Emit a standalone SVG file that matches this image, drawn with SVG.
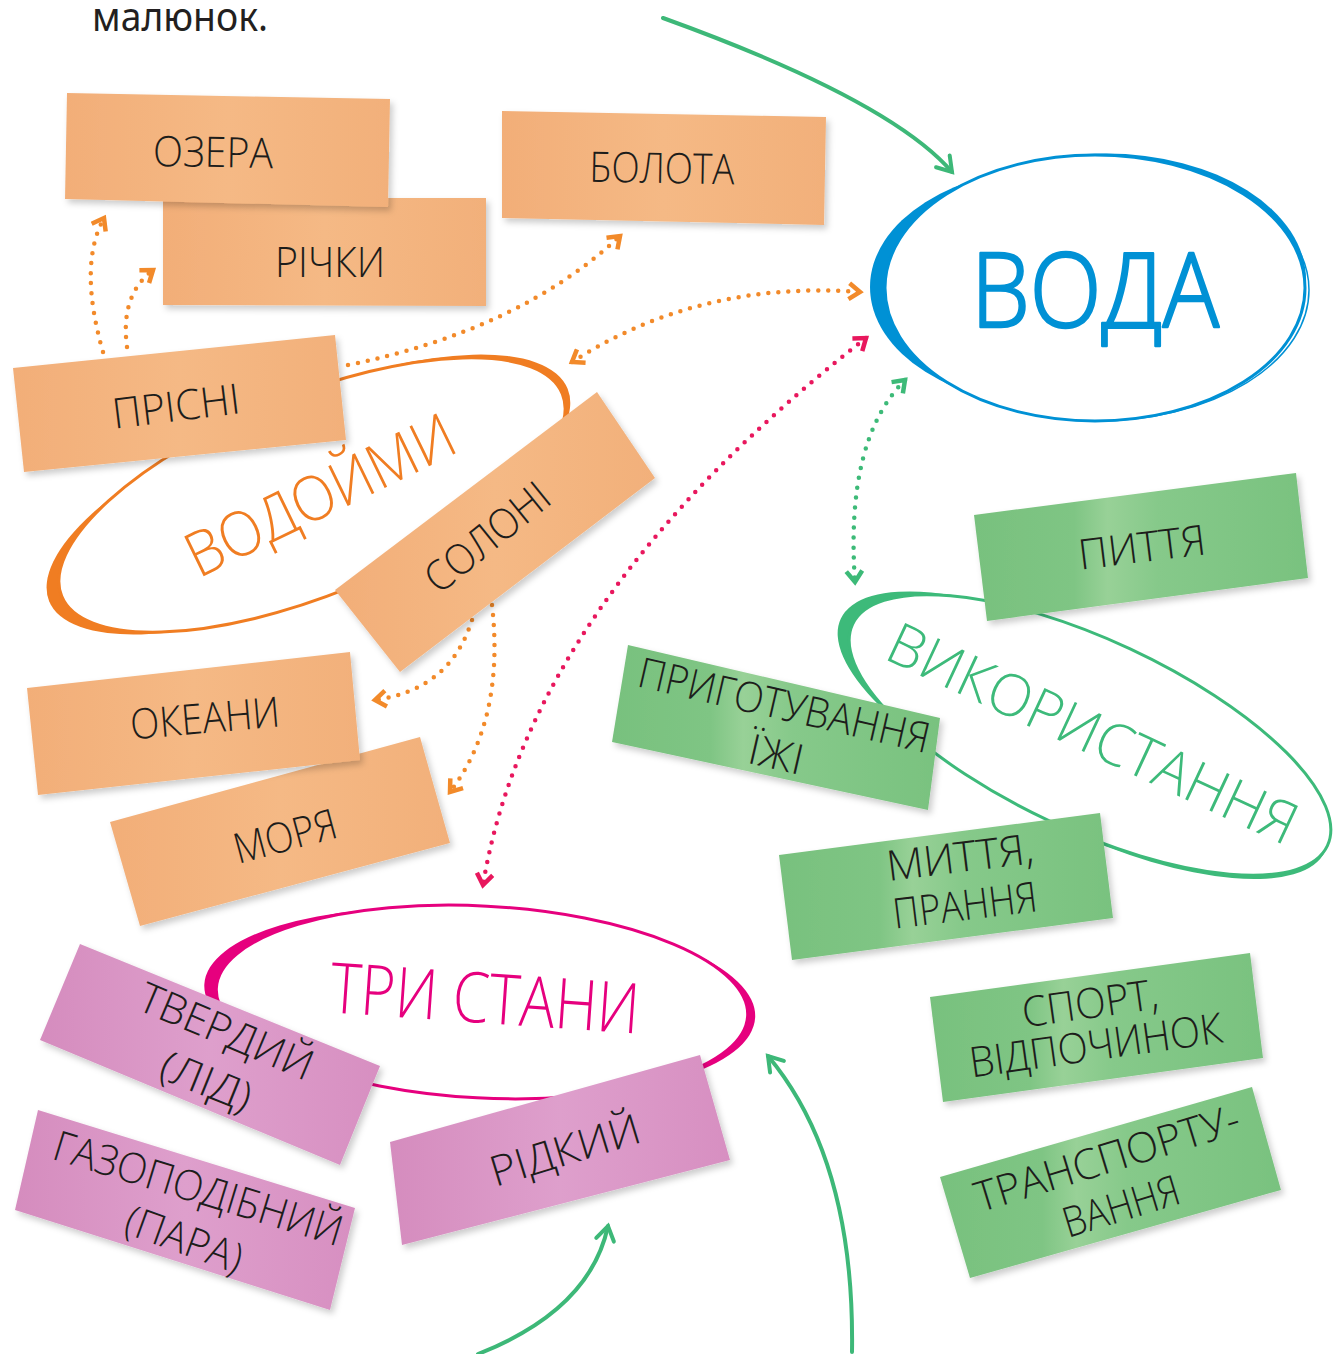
<svg xmlns="http://www.w3.org/2000/svg" width="1337" height="1354" viewBox="0 0 1337 1354">
<defs>
<style>
.lbl{font-family:"Open Sans","DejaVu Sans",sans-serif;font-weight:300;font-size:42px;fill:#1d1d1b;text-anchor:middle}
.title{font-family:"Open Sans","DejaVu Sans",sans-serif;font-weight:300;text-anchor:middle}
.stO{fill:url(#gO);filter:url(#sh)}
.stG{fill:url(#gG);filter:url(#sh)}
.stP{fill:url(#gP);filter:url(#sh)}
.dotO{fill:none;stroke:#f28a2a;stroke-width:4.5;stroke-linecap:round;stroke-dasharray:0 10}
.dotM{fill:none;stroke:#e8175d;stroke-width:4.5;stroke-linecap:round;stroke-dasharray:0 10}
.dotG{fill:none;stroke:#3dba78;stroke-width:4.5;stroke-linecap:round;stroke-dasharray:0 10}
.solidG{fill:none;stroke:#3db878;stroke-width:4;stroke-linecap:round}
</style>
<linearGradient id="gO" x1="0" y1="0" x2="1" y2="0">
<stop offset="0" stop-color="#f2ae78"/><stop offset="0.5" stop-color="#f5b985"/><stop offset="1" stop-color="#f2b07a"/>
</linearGradient>
<linearGradient id="gG" x1="0" y1="0" x2="1" y2="0">
<stop offset="0" stop-color="#78c17e"/><stop offset="0.3" stop-color="#7fc584"/><stop offset="0.4" stop-color="#98d197"/><stop offset="0.55" stop-color="#86c98a"/><stop offset="1" stop-color="#79c27f"/>
</linearGradient>
<linearGradient id="gP" x1="0" y1="0" x2="1" y2="0">
<stop offset="0" stop-color="#d58cbe"/><stop offset="0.5" stop-color="#de9fcc"/><stop offset="1" stop-color="#d78fc1"/>
</linearGradient>
<filter id="sh" x="-10%" y="-15%" width="130%" height="150%">
<feDropShadow dx="3" dy="4" stdDeviation="3" flood-color="#000" flood-opacity="0.2"/>
</filter>
<marker id="aO" viewBox="0 0 20 20" refX="16" refY="10" markerWidth="20" markerHeight="20" markerUnits="userSpaceOnUse" orient="auto-start-reverse">
<path d="M5,2 L16,10 L5,18" fill="none" stroke="#f28a2a" stroke-width="4.5"/>
</marker>
<marker id="aM" viewBox="0 0 20 20" refX="16" refY="10" markerWidth="20" markerHeight="20" markerUnits="userSpaceOnUse" orient="auto-start-reverse">
<path d="M5,2 L16,10 L5,18" fill="none" stroke="#e8175d" stroke-width="4.5"/>
</marker>
<marker id="aG" viewBox="0 0 20 20" refX="16" refY="10" markerWidth="20" markerHeight="20" markerUnits="userSpaceOnUse" orient="auto-start-reverse">
<path d="M5,2 L16,10 L5,18" fill="none" stroke="#3dba78" stroke-width="4.5"/>
</marker>
<marker id="aS" viewBox="0 0 24 24" refX="20" refY="12" markerWidth="24" markerHeight="24" markerUnits="userSpaceOnUse" orient="auto">
<path d="M6,3 L20,12 L6,21" fill="none" stroke="#3db878" stroke-width="4" stroke-linecap="round"/>
</marker>
</defs>
<rect width="1337" height="1354" fill="#ffffff"/>
<text x="92" y="31" font-family="Noto Sans, Roboto, sans-serif" font-size="40" fill="#231f20" textLength="176" lengthAdjust="spacingAndGlyphs">малюнок.</text>

<!-- ellipse nodes (brush lunes drawn under the white-filled ellipse) -->
<g id="voda">
<ellipse cx="1059" cy="287" rx="189" ry="120" fill="#0091d5"/>
<ellipse cx="1106" cy="280" rx="200" ry="126.5" fill="#0091d5"/>
<ellipse cx="1097" cy="290" rx="212" ry="131" fill="none" stroke="#0091d5" stroke-width="1.5"/>
<ellipse cx="1095" cy="288" rx="210" ry="133" fill="#fff" stroke="#0091d5" stroke-width="3"/>
<text class="title" x="1095" y="327" font-size="104" font-weight="400" fill="#0091d5" stroke="#0091d5" stroke-width="2.5" stroke-linejoin="round" textLength="248" lengthAdjust="spacingAndGlyphs">ВОДА</text>
</g>
<g id="vodoimy">
<g transform="translate(312,495) rotate(-22)">
<ellipse cx="-34" cy="0" rx="249.5" ry="92.4" fill="#f07d22"/>
<ellipse cx="20" cy="-2.7" rx="256.8" ry="95.1" fill="#f07d22"/>
<ellipse cx="0" cy="0" rx="270" ry="100" fill="#fff" stroke="#f07d22" stroke-width="3"/>
</g>
<text class="title" transform="translate(320,495) rotate(-26)" x="0" y="22" font-size="62" fill="#f07d22" textLength="292" lengthAdjust="spacingAndGlyphs">ВОДОЙМИ</text>
</g>
<g id="vykorystannia">
<g transform="translate(1090,735) rotate(25)">
<ellipse cx="-33" cy="0" rx="242" ry="87.8" fill="#3dba7a"/>
<ellipse cx="13.3" cy="5.7" rx="249" ry="90.3" fill="#3dba7a"/>
<ellipse cx="0" cy="0" rx="262" ry="95" fill="#fff" stroke="#3dba7a" stroke-width="3"/>
</g>
<text class="title" transform="translate(1093,733) rotate(25)" x="0" y="21" font-size="58" fill="#3dba7a" textLength="445" lengthAdjust="spacingAndGlyphs">ВИКОРИСТАННЯ</text>
</g>
<g id="try-stany">
<g transform="translate(482,1002) rotate(3)">
<ellipse cx="-32.4" cy="-3.1" rx="245.8" ry="88.7" fill="#e6007e"/>
<ellipse cx="20.6" cy="1.3" rx="253" ry="91.3" fill="#e6007e"/>
<ellipse cx="0" cy="0" rx="266" ry="96" fill="#fff" stroke="#e6007e" stroke-width="3"/>
</g>
<text class="title" transform="translate(485,998) rotate(4)" x="0" y="25" font-size="70" fill="#e6007e" textLength="310" lengthAdjust="spacingAndGlyphs">ТРИ СТАНИ</text>
</g>

<!-- connectors -->
<g id="connectors">
<path class="dotO" d="M103,352 Q78,265 104,218" marker-end="url(#aO)"/>
<path class="dotO" d="M127,347 Q120,295 153,270" marker-end="url(#aO)"/>
<path class="dotO" d="M348,365 Q520,330 620,236" marker-end="url(#aO)"/>
<path class="dotO" d="M572,362 Q700,280 860,292" marker-start="url(#aO)" marker-end="url(#aO)"/>
<path class="dotO" d="M472,620 Q450,690 375,700" marker-end="url(#aO)"/>
<path class="dotO" d="M492,605 Q505,720 450,792" marker-end="url(#aO)"/>
<path class="dotM" d="M866,338 Q530,600 483,885" marker-start="url(#aM)" marker-end="url(#aM)"/>
<path class="dotG" d="M905,380 Q845,440 855,582" marker-start="url(#aG)" marker-end="url(#aG)"/>
<path class="solidG" d="M663,18 Q890,100 952,172" marker-end="url(#aS)"/>
<path class="solidG" d="M478,1354 Q590,1310 608,1226" marker-end="url(#aS)"/>
<path class="solidG" d="M852,1352 Q855,1160 768,1056" marker-end="url(#aS)"/>
</g>

<!-- sticker nodes -->
<g id="richky"><polygon class="stO" points="163,198 486,198 486,306 163,305"/>
<text class="lbl" transform="translate(330,262)" y="15" textLength="110" lengthAdjust="spacingAndGlyphs">РІЧКИ</text></g>
<g id="ozera"><polygon class="stO" points="67,93 390,99 388,207 65,199"/>
<text class="lbl" transform="translate(213,152) rotate(1)" y="15" textLength="120" lengthAdjust="spacingAndGlyphs">ОЗЕРА</text></g>
<g id="bolota"><polygon class="stO" points="502,111 826,117 824,225 502,218"/>
<text class="lbl" transform="translate(662,168) rotate(1)" y="15" textLength="145" lengthAdjust="spacingAndGlyphs">БОЛОТА</text></g>
<g id="prisni"><polygon class="stO" points="13,368 335,335 346,440 24,472"/>
<text class="lbl" transform="translate(176,406) rotate(-7)" y="15" textLength="128" lengthAdjust="spacingAndGlyphs">ПРІСНІ</text></g>
<g id="soloni"><polygon class="stO" points="335,590 597,392 655,478 400,672"/>
<text class="lbl" transform="translate(487,537) rotate(-39)" y="15" textLength="148" lengthAdjust="spacingAndGlyphs">СОЛОНІ</text></g>
<g id="moria"><polygon class="stO" points="110,822 420,737 450,843 140,926"/>
<text class="lbl" transform="translate(285,836) rotate(-15)" y="15" textLength="105" lengthAdjust="spacingAndGlyphs">МОРЯ</text></g>
<g id="okeany"><polygon class="stO" points="27,688 350,652 360,760 38,795"/>
<text class="lbl" transform="translate(205,718) rotate(-5)" y="15" textLength="150" lengthAdjust="spacingAndGlyphs">ОКЕАНИ</text></g>

<g id="pyttia"><polygon class="stG" points="974,515 1296,473 1308,578 987,621"/>
<text class="lbl" transform="translate(1142,547) rotate(-7)" y="15" textLength="128" lengthAdjust="spacingAndGlyphs">ПИТТЯ</text></g>
<g id="pryhotuvannia"><polygon class="stG" points="628,645 940,718 928,810 612,742"/>
<text class="lbl" transform="translate(784,706) rotate(13)" y="14" font-size="40" textLength="298" lengthAdjust="spacingAndGlyphs">ПРИГОТУВАННЯ</text>
<text class="lbl" transform="translate(776,755) rotate(13)" y="14" font-size="40" textLength="55" lengthAdjust="spacingAndGlyphs">ЇЖІ</text></g>
<g id="myttia"><polygon class="stG" points="779,855 1100,813 1113,918 792,960"/>
<text class="lbl" transform="translate(960,857) rotate(-7)" y="15" textLength="148" lengthAdjust="spacingAndGlyphs">МИТТЯ,</text>
<text class="lbl" transform="translate(965,905) rotate(-7)" y="15" textLength="145" lengthAdjust="spacingAndGlyphs">ПРАННЯ</text></g>
<g id="sport"><polygon class="stG" points="930,997 1250,953 1263,1058 943,1102"/>
<text class="lbl" transform="translate(1090,1003) rotate(-8)" y="15" textLength="137" lengthAdjust="spacingAndGlyphs">СПОРТ,</text>
<text class="lbl" transform="translate(1096,1045) rotate(-8)" y="15" textLength="255" lengthAdjust="spacingAndGlyphs">ВІДПОЧИНОК</text></g>
<g id="transportuvannia"><polygon class="stG" points="940,1177 1252,1087 1281,1190 970,1278"/>
<text class="lbl" transform="translate(1107,1158) rotate(-17)" y="15" textLength="275" lengthAdjust="spacingAndGlyphs">ТРАНСПОРТУ-</text>
<text class="lbl" transform="translate(1121,1206) rotate(-17)" y="15" textLength="120" lengthAdjust="spacingAndGlyphs">ВАННЯ</text></g>

<g id="tverdyi"><polygon class="stP" points="80,944 380,1066 340,1165 40,1040"/>
<text class="lbl" transform="translate(226,1032) rotate(23)" y="14" font-size="40" textLength="185" lengthAdjust="spacingAndGlyphs">ТВЕРДИЙ</text>
<text class="lbl" transform="translate(206,1082) rotate(22)" y="14" font-size="40" textLength="95" lengthAdjust="spacingAndGlyphs">(ЛІД)</text></g>
<g id="hazopodibnyi"><polygon class="stP" points="38,1110 355,1208 330,1310 15,1210"/>
<text class="lbl" transform="translate(198,1189) rotate(17)" y="14" font-size="40" textLength="300" lengthAdjust="spacingAndGlyphs">ГАЗОПОДІБНИЙ</text>
<text class="lbl" transform="translate(184,1240) rotate(20)" y="14" font-size="40" textLength="122" lengthAdjust="spacingAndGlyphs">(ПАРА)</text></g>
<g id="ridkyi"><polygon class="stP" points="390,1142 700,1055 730,1160 402,1245"/>
<text class="lbl" transform="translate(565,1150) rotate(-17)" y="15" textLength="155" lengthAdjust="spacingAndGlyphs">РІДКИЙ</text></g>
</svg>
